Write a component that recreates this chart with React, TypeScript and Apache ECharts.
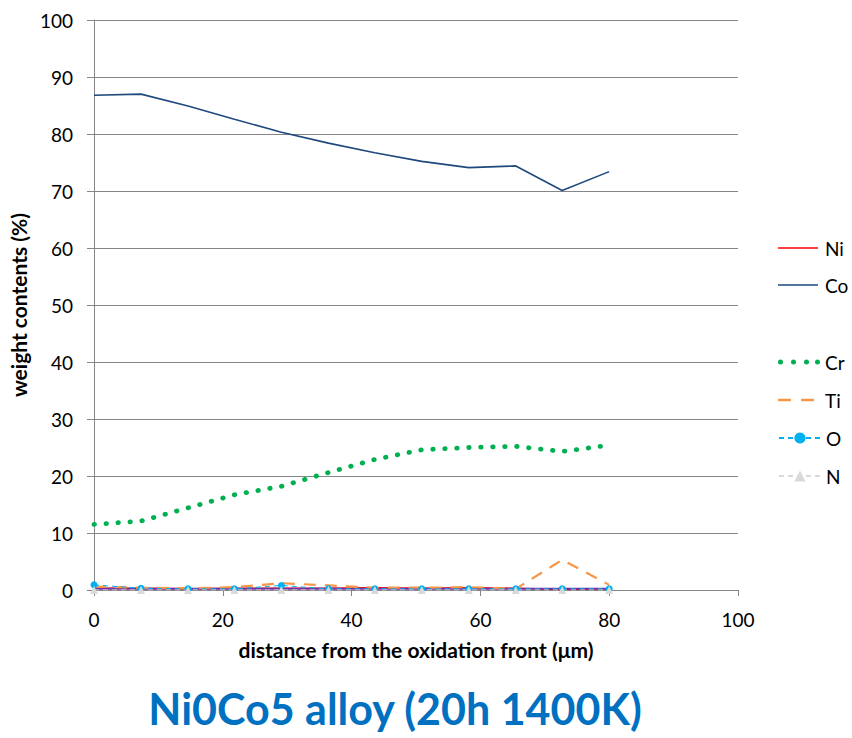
import React, { useEffect, useRef } from "react";
import * as echarts from "echarts";

const xs = [0, 7.3, 14.6, 21.8, 29.1, 36.4, 43.6, 50.9, 58.2, 65.5, 72.7, 80];
const ni = [0.3, 0.3, 0.2, 0.3, 0.3, 0.3, 0.4, 0.3, 0.4, 0.3, 0.1, 0.2];
const co = [86.8, 87.0, 84.9, 82.6, 80.3, 78.4, 76.7, 75.2, 74.1, 74.4, 70.1, 73.4];
const other = [0.2, 0.2, 0.2, 0.2, 0.2, 0.2, 0.2, 0.2, 0.2, 0.2, 0.2, 0.2];
const cr = [11.5, 12.1, 14.4, 16.7, 18.2, 20.6, 22.9, 24.6, 25.0, 25.2, 24.3, 25.4];
const ti = [0.6, 0.4, 0.3, 0.5, 1.2, 0.8, 0.4, 0.4, 0.5, 0.2, 5.3, 0.9];
const o = [0.9, 0.3, 0.2, 0.2, 0.8, 0.2, 0.2, 0.2, 0.2, 0.2, 0.2, 0.2];
const n = [0, 0, 0, 0, 0, 0, 0, 0, 0, 0, 0, 0];

const legendNames = ["Ni", "Co", "Cr", "Ti", "O", "N"];
const legendRows = [248, 285, 362, 400, 438, 476];

const FONT = "Lato";

const pts = (ys: number[]) => xs.map((x, i) => [x, ys[i]]);

// legend icons: bounding box forced to 42x14 with invisible corner points
const BOX = "M0,0 L0,0 M42,14 L42,14 ";
const solidIcon = "path://" + BOX + "M0,6.2 L40,6.2 L40,7.8 L0,7.8 Z";
const dot = (cx: number) =>
  `M${cx - 2.5},7 a2.5,2.5 0 1,0 5,0 a2.5,2.5 0 1,0 -5,0 Z `;
const dottedIcon = "path://" + BOX + dot(2.5) + dot(15.5) + dot(28.5) + dot(39.5);
const dashedIcon =
  "path://" + BOX + "M0,5.8 L13,5.8 L13,8.2 L0,8.2 Z M23,5.8 L36,5.8 L36,8.2 L23,8.2 Z";

export default function App() {
  const ref = useRef<HTMLDivElement>(null);
  useEffect(() => {
    if (!ref.current) return;
    const chart = echarts.init(ref.current, null, { renderer: "svg" });
    const icons: Record<string, string | undefined> = {
      Ni: solidIcon,
      Co: solidIcon,
      Cr: dottedIcon,
      Ti: dashedIcon,
      O: undefined,
      N: undefined,
    };
    const legends = legendNames.map((name, i) => {
      const item: any = { name };
      if (icons[name]) item.icon = icons[name];
      return {
        id: "lg" + name,
        orient: "vertical",
        left: 778,
        top: legendRows[i] - 9.5,
        padding: 0,
        itemWidth: 42,
        itemHeight: 14,
        textStyle: { fontFamily: FONT, fontSize: 19, color: "#000" },
        data: [item],
      };
    });
    chart.setOption({
      animation: false,
      backgroundColor: "#fff",
      grid: { left: 94, right: 114, top: 20, bottom: 148 },
      legend: legends,
      xAxis: {
        type: "value",
        min: 0,
        max: 100,
        interval: 20,
        name: "distance from the oxidation front (μm)",
        nameLocation: "middle",
        nameGap: 49,
        nameTextStyle: { fontFamily: FONT, fontSize: 21, fontWeight: "bold", color: "#000" },
        axisLine: { lineStyle: { color: "#868686", width: 1 } },
        axisTick: { show: true, length: 6, lineStyle: { color: "#868686" } },
        axisLabel: { fontFamily: FONT, fontSize: 19, color: "#000", margin: 20 },
        splitLine: { show: false },
      },
      yAxis: {
        type: "value",
        min: 0,
        max: 100,
        interval: 10,
        name: "weight contents (%)",
        nameLocation: "middle",
        nameGap: 63,
        nameTextStyle: { fontFamily: FONT, fontSize: 21, fontWeight: "bold", color: "#000" },
        axisLine: { show: true, lineStyle: { color: "#868686", width: 1 } },
        axisTick: { show: true, length: 7, lineStyle: { color: "#868686" } },
        axisLabel: { fontFamily: FONT, fontSize: 19, color: "#000", margin: 21 },
        splitLine: { show: true, lineStyle: { color: "#868686", width: 1 } },
      },
      series: [
        {
          name: "Ni",
          type: "line",
          data: pts(ni),
          symbol: "none",
          color: "#FF0000",
          lineStyle: { color: "#FF0000", width: 1.5 },
        },
        {
          name: "Co",
          type: "line",
          data: pts(co),
          symbol: "none",
          color: "#1F497D",
          lineStyle: { color: "#1F497D", width: 1.6 },
        },
        {
          name: "_other",
          type: "line",
          data: pts(other),
          symbol: "none",
          color: "#7030A0",
          lineStyle: { color: "#7030A0", width: 2 },
        },
        {
          name: "Cr",
          type: "line",
          data: pts(cr),
          symbol: "none",
          color: "#00B050",
          lineStyle: { color: "#00B050", width: 4.8, type: [0.5, 11.5], cap: "round" },
        },
        {
          name: "Ti",
          type: "line",
          data: pts(ti),
          symbol: "none",
          color: "#F79646",
          lineStyle: { color: "#F79646", width: 2.2, type: [12, 9] },
        },
        {
          name: "O",
          type: "line",
          data: pts(o),
          symbol: "circle",
          symbolSize: 7,
          color: "#00B0F0",
          itemStyle: { color: "#00B0F0" },
          lineStyle: { color: "#00B0F0", width: 1, type: [5, 4] },
        },
        {
          name: "N",
          type: "line",
          data: pts(n),
          symbol: "triangle",
          symbolSize: 8,
          color: "#D9D9D9",
          itemStyle: { color: "#D9D9D9" },
          lineStyle: { color: "#D9D9D9", width: 1, type: [5, 4] },
        },
      ],
      graphic: [
        {
          type: "text",
          x: 395,
          y: 708,
          style: {
            text: "Ni0Co5 alloy (20h 1400K)",
            fontFamily: FONT,
            fontSize: 43,
            fontWeight: "bold",
            fill: "#0070C0",
            align: "center",
            verticalAlign: "middle",
          },
        },
      ],
    });
    return () => chart.dispose();
  }, []);
  return (
    <div
      ref={ref}
      style={{ position: "fixed", left: 0, top: 0, width: 852, height: 738 }}
    />
  );
}
